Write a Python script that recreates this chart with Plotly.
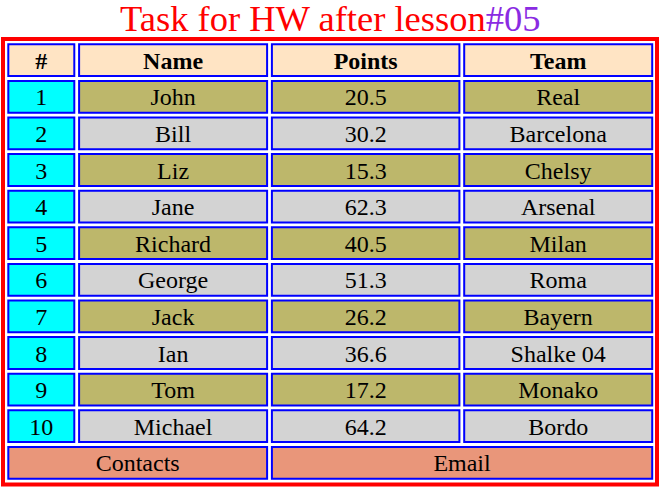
import plotly.graph_objects as go

# table content
headers = ["#", "Name", "Points", "Team"]
ids = ["1", "2", "3", "4", "5", "6", "7", "8", "9", "10"]
names = ["John", "Bill", "Liz", "Jane", "Richard", "George", "Jack", "Ian", "Tom", "Michael"]
points = [20.5, 30.2, 15.3, 62.3, 40.5, 51.3, 26.2, 36.6, 17.2, 64.2]
teams = ["Real", "Barcelona", "Chelsy", "Arsenal", "Milan", "Roma", "Bayern", "Shalke 04", "Monako", "Bordo"]
footer = ["Contacts", "Email"]

# geometry (px) and styles
W, H = 660, 488
col_w = [68, 190, 189.5, 190]
gap = 2.8
x_start = 7.3
y_start = 43.3
row_h = 33.8
text_dy = 2.5
font = "Liberation Serif"

col_x = []
x = x_start
for w in col_w:
    col_x.append((x, x + w))
    x += w + gap

def row_y(i):
    top = y_start + i * (row_h + gap)
    return top, top + row_h

shapes = []

def cell(x0, x1, y0, y1, fill):
    shapes.append(dict(type="rect", xref="x", yref="y", x0=x0 + 1, x1=x1 - 1, y0=y0 + 1, y1=y1 - 1,
                       fillcolor=fill, line=dict(color="#0000FF", width=2), layer="below"))

# outer red border
shapes.append(dict(type="rect", xref="x", yref="y", x0=3, x1=657, y0=39, y1=484.5,
                   line=dict(color="#FF0000", width=4), fillcolor="rgba(0,0,0,0)", layer="below"))

tx, ty, tt = [], [], []
hx, hy, ht = [], [], []

# header row
y0, y1 = row_y(0)
for c, h in enumerate(headers):
    cell(col_x[c][0], col_x[c][1], y0, y1, "#FFE4C4")
    hx.append((col_x[c][0] + col_x[c][1]) / 2)
    hy.append((y0 + y1) / 2 + text_dy)
    ht.append(h)

# body rows
for r in range(len(ids)):
    y0, y1 = row_y(r + 1)
    fill = "#BDB76B" if r % 2 == 0 else "#D3D3D3"
    vals = [ids[r], names[r], f"{points[r]}", teams[r]]
    for c, v in enumerate(vals):
        cell(col_x[c][0], col_x[c][1], y0, y1, "#00FFFF" if c == 0 else fill)
        tx.append((col_x[c][0] + col_x[c][1]) / 2)
        ty.append((y0 + y1) / 2 + text_dy)
        tt.append(v)

# footer row, two merged cells
y0, y1 = row_y(len(ids) + 1)
spans = [(col_x[0][0], col_x[1][1]), (col_x[2][0], col_x[3][1])]
for (a, b), f in zip(spans, footer):
    cell(a, b, y0, y1, "#E9967A")
    tx.append((a + b) / 2)
    ty.append((y0 + y1) / 2 + text_dy)
    tt.append(f)

fig = go.Figure()
fig.add_trace(go.Scatter(x=tx, y=ty, text=tt, mode="text", textposition="middle center",
                         textfont=dict(family=font, size=24, color="black"), hoverinfo="skip"))
fig.add_trace(go.Scatter(x=hx, y=hy, text=ht, mode="text", textposition="middle center",
                         textfont=dict(family=font, size=24, color="black", weight="bold"), hoverinfo="skip"))

fig.add_annotation(x=W / 2, y=18, xref="x", yref="y", showarrow=False,
                   text="Task for HW after lesson<span style='color:#8A2BE2'>#05</span>",
                   font=dict(family=font, size=36.5, color="#FF0000"))

fig.update_layout(
    width=W, height=H, margin=dict(l=0, r=0, t=0, b=0),
    paper_bgcolor="white", plot_bgcolor="white",
    showlegend=False, shapes=shapes,
    xaxis=dict(range=[0, W], visible=False, fixedrange=True),
    yaxis=dict(range=[H, 0], visible=False, fixedrange=True),
)

fig.write_html("out.html", config={"displayModeBar": False},
               post_script="document.body.style.margin='0';document.body.style.overflow='hidden';")
